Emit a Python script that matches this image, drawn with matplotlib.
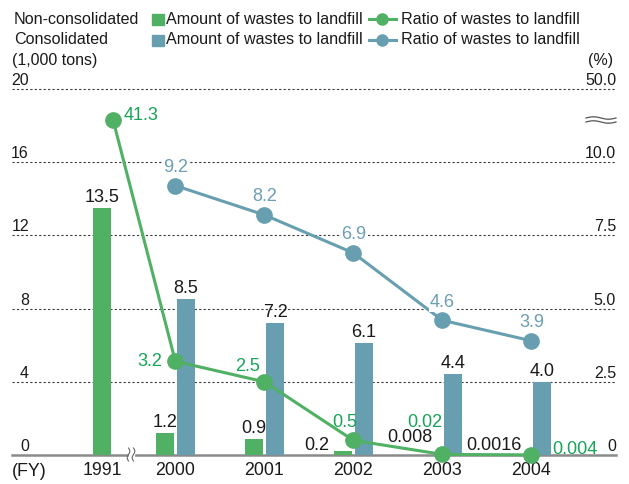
import numpy as np
import matplotlib
matplotlib.use("Agg")
import matplotlib.pyplot as plt
from matplotlib.patches import Rectangle
from matplotlib.lines import Line2D
from matplotlib.transforms import blended_transform_factory

plt.rcParams['font.family'] = ['Liberation Sans', 'DejaVu Sans']

# data
years = ['1991', '2000', '2001', '2002', '2003', '2004']
nonc_amount = [13.5, 1.2, 0.9, 0.2, 0.008, 0.0016]
cons_amount = [None, 8.5, 7.2, 6.1, 4.4, 4.0]
nonc_ratio = [41.3, 3.2, 2.5, 0.5, 0.02, 0.004]
cons_ratio = [None, 9.2, 8.2, 6.9, 4.6, 3.9]
left_ticks = [0, 4, 8, 12, 16, 20]
right_labels = ['0', '2.5', '5.0', '7.5', '10.0', '50.0']

GREEN = '#50b064'
BLUE = '#689fb0'
GREEN_TXT = '#17a358'
BLUE_TXT = '#6c9fb1'
DARK = '#1a1a1a'


def to_axis(r):
    # ratio (%) -> left axis units, with a break above 10 %
    if r <= 10:
        return r * 1.6
    return 16 + (r - 10) * 0.074


def px(v):
    return v * 0.72


W, H = 629, 484
fig = plt.figure(figsize=(W / 100, H / 100), dpi=100)
ax = fig.add_axes([12 / W, 1 - 455 / H, 604 / W, 366 / H])

x = np.array([0, 0.7, 1.7, 2.7, 3.7, 4.7])
bw = 0.2
off = 0.12
ax.set_xlim(-1.135, 5.65)
ax.set_ylim(0, 20)

for s in ax.spines.values():
    s.set_visible(False)
ax.set_yticks([])

for v in left_ticks[1:]:
    ax.axhline(v, ls=(0, (2, 2)), lw=0.8, color='#3a3a3a', zorder=1, clip_on=False)
ax.axhline(0, color='#8a8a8a', lw=1.8, zorder=2, clip_on=False)

# bars
gx = x - off
ax.bar(gx, nonc_amount, width=bw, color=GREEN, zorder=3)
bi = [i for i, v in enumerate(cons_amount) if v is not None]
ax.bar(x[bi] + off, [cons_amount[i] for i in bi], width=bw, color=BLUE, zorder=3)

# lines
cy = [to_axis(cons_ratio[i]) for i in bi]
ax.plot(x[bi], cy, color=BLUE, lw=2.2, marker='o', ms=11, zorder=5, clip_on=False)
ny = [to_axis(r) for r in nonc_ratio]
ax.plot(x, ny, color=GREEN, lw=2.2, marker='o', ms=11, zorder=6, clip_on=False)

# bar labels
g_off = [(0, 2, 'center', 'bottom'), (0, 2, 'center', 'bottom'), (0, 2, 'center', 'bottom'),
         (-13, 9, 'right', 'center'), (1, 17, 'right', 'center'), (1, 10, 'right', 'center')]
for i, v in enumerate(nonc_amount):
    dx, dy, ha, va = g_off[i]
    base = v if va == 'bottom' else 0
    ax.annotate(str(v), (gx[i], base), xytext=(px(dx), px(dy)), textcoords='offset points',
                ha=ha, va=va, fontsize=13, color=DARK, zorder=7)
for i in bi:
    ax.annotate(str(cons_amount[i]), (x[i] + off, cons_amount[i]), xytext=(0, px(2)),
                textcoords='offset points', ha='center', va='bottom', fontsize=13, color=DARK)

# ratio labels
r_off = [(11, 4, 'left'), (-13, 0, 'right'), (-17, 15, 'center'), (-9, 18, 'center'),
         (-18, 32, 'center'), (21, 5, 'left')]
for i, r in enumerate(nonc_ratio):
    dx, dy, ha = r_off[i]
    ax.annotate(str(r), (x[i], ny[i]), xytext=(px(dx), px(dy)), textcoords='offset points',
                ha=ha, va='center', fontsize=13, color=GREEN_TXT, zorder=8,
                annotation_clip=False)
for k, i in enumerate(bi):
    ax.annotate(str(cons_ratio[i]), (x[i], cy[k]), xytext=(0, px(18)), textcoords='offset points',
                ha='center', va='center', fontsize=13, color=BLUE_TXT, zorder=8,
                bbox=dict(facecolor='white', edgecolor='none', pad=0.5))

# axis tick labels
tr = blended_transform_factory(ax.transAxes, ax.transData)
for v, lab in zip(left_ticks, right_labels):
    ax.annotate(str(v), (17 / 604, v), xycoords=tr, xytext=(0, px(1)), textcoords='offset points',
                ha='right', va='bottom', fontsize=11.5, color=DARK)
    ax.annotate(lab, (1.0, v), xycoords=tr, xytext=(0, px(1)), textcoords='offset points',
                ha='right', va='bottom', fontsize=11.5, color=DARK)

tick_x = list(x)
tick_x[0] = gx[0]
ax.set_xticks(tick_x)
ax.set_xticklabels(years, fontsize=12.8, color=DARK)
ax.tick_params(axis='x', length=0, pad=5)

# overlay in pixel coords for legend, units and break marks
ov = fig.add_axes([0, 0, 1, 1])
ov.set_xlim(0, W)
ov.set_ylim(H, 0)
ov.axis('off')
ov.patch.set_alpha(0)

ov.text(12, 60, '(1,000 tons)', fontsize=11.5, color=DARK, ha='left', va='center')
ov.text(613, 60, '(%)', fontsize=11.5, color=DARK, ha='right', va='center')
ov.text(12, 471, '(FY)', fontsize=12.8, color=DARK, ha='left', va='center')

# x-axis break
t = np.linspace(0, 1, 40)
ov.add_patch(Rectangle((128.5, 452), 5, 6, color='white', zorder=5))
for bx in (128.5, 133.5):
    ov.plot(bx + 1.3 * np.sin(t * 2 * np.pi), 448 + 13 * t, color='#666666', lw=0.8, zorder=6)
# right axis break
for by in (118, 122):
    ov.plot(586 + 30 * t, by - 1.2 * np.sin(t * 2 * np.pi), color='#555555', lw=0.9)

rows = [(19, 'Non-consolidated', GREEN), (40, 'Consolidated', BLUE)]
for yy, name, col in rows:
    ov.text(14, yy, name, fontsize=11.6, color=DARK, ha='left', va='center')
    ov.add_patch(Rectangle((152, yy - 5.5), 11.5, 11, color=col))
    ov.text(166, yy, 'Amount of wastes to landfill', fontsize=11.6, color=DARK, ha='left', va='center')
    ov.add_line(Line2D([369, 396], [yy, yy], color=col, lw=2.2))
    ov.add_line(Line2D([382], [yy], color=col, marker='o', ms=8))
    ov.text(401, yy, 'Ratio of wastes to landfill', fontsize=11.6, color=DARK, ha='left', va='center')

fig.savefig('out.png', dpi=100)
